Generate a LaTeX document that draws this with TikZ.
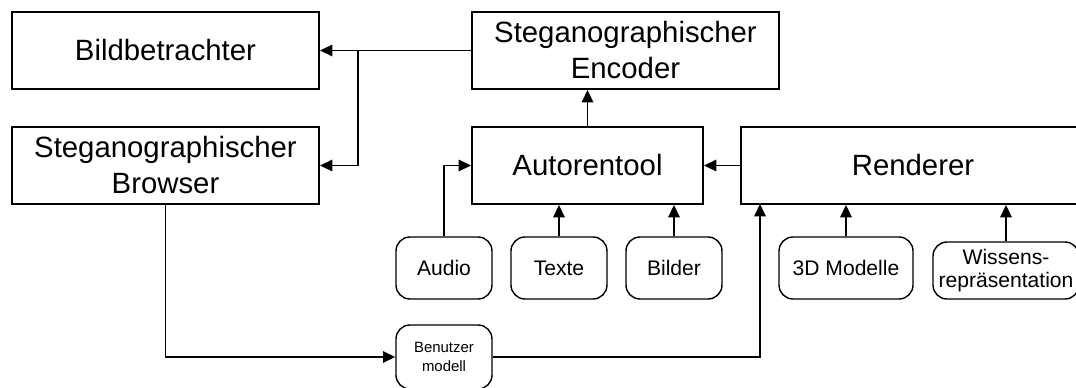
\documentclass[tikz,border=0pt]{standalone}
\usepackage{fontspec}
\setmainfont{Liberation Sans}
\usepackage{tikz}
\usetikzlibrary{arrows.meta}

\begin{document}
\begin{tikzpicture}[x=0.02cm, y=-0.02cm,
	bigbox/.style={rectangle, minimum height=77*0.02cm, inner sep=2pt, draw=black, line width=1.1pt, align=center, font=\fontsize{16.7}{20.5}\selectfont},
	smallbox/.style={rectangle, rounded corners=0.28cm, minimum height=62*0.02cm, inner sep=1pt, draw=black, line width=0.8pt, align=center, font=\fontsize{12}{13}\selectfont},
	link/.style={draw=black, line width=0.75pt, -{Triangle[length=7pt, width=6.5pt]}}]
	\clip (0,0) rectangle (1076,388);
	\node[bigbox, minimum width=307*0.02cm] at (165.5,50.5 )(rect1){Bildbetrachter};
	\node[bigbox, minimum width=307*0.02cm] at (625.5,50.5 )(rect2){Steganographischer\\Encoder};
	\node[bigbox, minimum width=307*0.02cm] at (165.5,165.5)(rect3){Steganographischer\\Browser};
	\node[bigbox, minimum width=231*0.02cm] at (587.5,165.5)(rect4){Autorentool};
	\node[bigbox, minimum width=344*0.02cm] at (913  ,165.5)(rect5){Renderer};
	\node[smallbox, minimum width=96*0.02cm ] at (444 ,268  )(round1){Audio};
	\node[smallbox, minimum width=96*0.02cm ] at (559 ,268  )(round2){Texte};
	\node[smallbox, minimum width=96*0.02cm ] at (674 ,268  )(round3){Bilder};
	\node[smallbox, minimum width=134*0.02cm] at (846 ,268  )(round4){3D Modelle};
	\node[smallbox, minimum width=146*0.02cm, minimum height=57*0.02cm] at (1006,270.5)(round5){Wissens-\\repräsentation};
	\node[smallbox, minimum width=96*0.02cm, minimum height=64*0.02cm, font=\fontsize{8.5}{10.8}\selectfont] at (444,357)(round6){Benutzer\\modell};
	\coordinate (split) at (358,50.5);
	\coordinate (entry) at (760,204);
	\draw[link](rect2.west) -- (rect1.east);
	\draw[link](split) |- (rect3.east);
	\draw[link](rect4.north) -- (rect4.north |- rect2.south);
	\draw[link](rect5.west) -- (rect4.east);
	\draw[link](round1.north) |- (rect4.west);
	\draw[link](round2.north) -- (round2.north |- rect4.south);
	\draw[link](round3.north) -- (round3.north |- rect4.south);
	\draw[link](round4.north) -- (round4.north |- rect5.south);
	\draw[link](round5.north) -- (round5.north |- rect5.south);
	\draw[link](rect3.south) |- (round6.west);
	\draw[link](round6.east) -| (entry);
\end{tikzpicture}
\end{document}
